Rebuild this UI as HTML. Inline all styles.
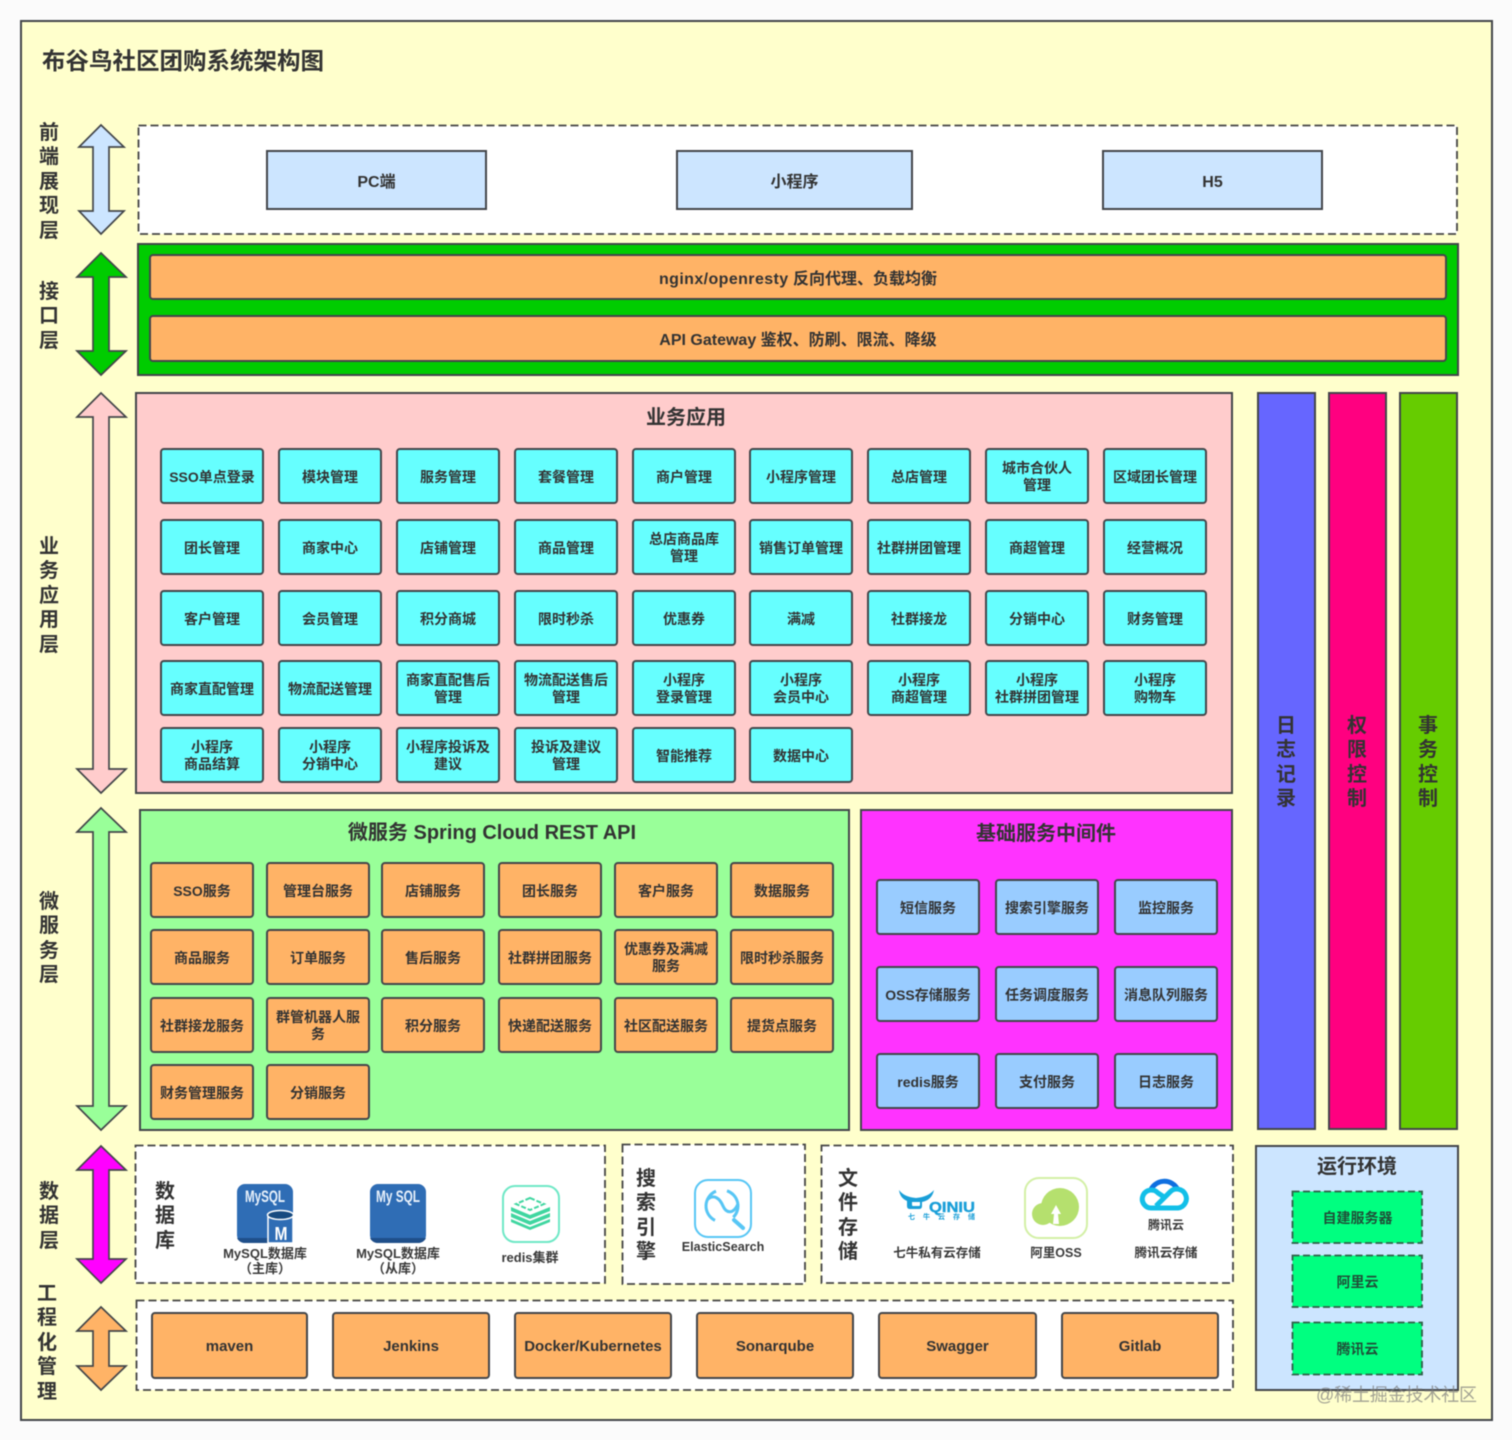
<!DOCTYPE html>
<html lang="zh"><head><meta charset="utf-8"><title>布谷鸟社区团购系统架构图</title>
<style>
*{box-sizing:border-box}
html,body{margin:0;padding:0;background:#fbfbfb}
body{width:1512px;height:1440px;position:relative;overflow:hidden;font-family:"Liberation Sans","Noto Sans CJK SC",sans-serif;font-weight:700;color:#333;font-size:14px}
div{position:absolute}
#w{left:0;top:0;width:1512px;height:1440px;filter:blur(.45px)}
.f{display:flex;align-items:center;justify-content:center;text-align:center;line-height:17px;padding-top:2px}
.s{border:2px solid #43464a}
.v{font-size:20px;line-height:24.4px;text-align:center;width:30px;color:#333}
.c{width:104px;height:56px;border:2px solid #43464a;border-radius:4px}
.cy{background:#66ffff}.or{background:#ffb366}.bl{background:#99ccff}
.a1{left:160px}.a2{left:278px}.a3{left:396px}.a4{left:514px}.a5{left:632px}.a6{left:749px}.a7{left:867px}.a8{left:985px}.a9{left:1103px}
.t1{top:448px}.t2{top:519px}.t3{top:590px}.t4{top:660px}.t5{top:727px}
.b1{left:150px}.b2{left:266px}.b3{left:381px}.b4{left:498px}.b5{left:614px}.b6{left:730px}
.u1{top:862px}.u2{top:929px}.u3{top:997px}.u4{top:1064px}
.m1{left:876px}.m2{left:995px}.m3{left:1114px}
.w1{top:879px}.w2{top:966px}.w3{top:1053px}
.e{top:1312px;height:67px;border:2px solid #43464a;border-radius:4px;background:#ffb366;font-size:15px}
.g{left:1292px;width:131px;height:53px;color:#1f4f38}
.l{text-align:center;line-height:15px;font-size:13px;transform:translateX(-50%);white-space:nowrap;color:#3a3a3a}
.ttl{font-size:20px;transform:translateX(-50%);white-space:nowrap;line-height:26px}
.big{font-size:16px;padding-top:4px}
</style></head><body>
<div id="w">

<div class="s" style="left:20px;top:20px;width:1473px;height:1401px;background:#ffffcc"></div>
<div class="s" style="left:1255px;top:1145px;width:204px;height:246px;background:#cce5ff"></div>

<svg style="position:absolute;left:0;top:0" width="1512" height="1440" viewBox="0 0 1512 1440">
<g fill="#fff" stroke="#444" stroke-width="1.800" stroke-dasharray="8 4">
<rect x="138.500" y="125.500" width="1318.500" height="108.500"/>
<rect x="135.500" y="1145.500" width="469.500" height="137.500"/>
<rect x="622.500" y="1144.500" width="182.500" height="139.500"/>
<rect x="821.500" y="1145.500" width="411.500" height="137.500"/>
<rect x="136.500" y="1300.500" width="1096.500" height="89.500"/>
</g>
<g fill="#00ff80" stroke="#2f5f48" stroke-width="1.800" stroke-dasharray="7 3.500">
<rect x="1292.500" y="1191.500" width="129.500" height="51.500"/>
<rect x="1292.500" y="1255.500" width="129.500" height="51.500"/>
<rect x="1292.500" y="1322.500" width="129.500" height="52"/>
</g>
</svg>

<div style="left:42px;top:44px;font-size:23.500px;line-height:34px;white-space:nowrap">布谷鸟社区团购系统架构图</div>

<div class="v" style="left:34px;top:121px">前<br>端<br>展<br>现<br>层</div>
<div class="v" style="left:34px;top:280px">接<br>口<br>层</div>
<div class="v" style="left:34px;top:535px">业<br>务<br>应<br>用<br>层</div>
<div class="v" style="left:34px;top:890px">微<br>服<br>务<br>层</div>
<div class="v" style="left:34px;top:1180px">数<br>据<br>层</div>
<div class="v" style="left:32px;top:1282px">工<br>程<br>化<br>管<br>理</div>

<!-- 前端 -->
<div class="s f big" style="left:266px;top:150px;width:221px;height:60px;background:#cce5ff">PC端</div>
<div class="s f big" style="left:676px;top:150px;width:237px;height:60px;background:#cce5ff">小程序</div>
<div class="s f big" style="left:1102px;top:150px;width:221px;height:60px;background:#cce5ff">H5</div>

<!-- 接口 -->
<div class="s" style="left:137px;top:243px;width:1322px;height:133px;background:#00cc00"></div>
<div class="f big" style="left:149px;top:254px;width:1298px;height:46px;background:#ffb366;border:2px solid #43464a;border-radius:4px"><span style="letter-spacing:.4px">nginx/openresty</span>&nbsp;反向代理、负载均衡</div>
<div class="f big" style="left:149px;top:315px;width:1298px;height:47px;background:#ffb366;border:2px solid #43464a;border-radius:4px">API Gateway 鉴权、防刷、限流、降级</div>

<!-- 业务应用 -->
<div class="s" style="left:135px;top:392px;width:1098px;height:402px;background:#ffcccc"></div>
<div class="ttl" style="left:686px;top:405px">业务应用</div>

<div class="c cy f a1 t1">SSO单点登录</div><div class="c cy f a2 t1">模块管理</div><div class="c cy f a3 t1">服务管理</div><div class="c cy f a4 t1">套餐管理</div><div class="c cy f a5 t1">商户管理</div><div class="c cy f a6 t1">小程序管理</div><div class="c cy f a7 t1">总店管理</div><div class="c cy f a8 t1">城市合伙人<br>管理</div><div class="c cy f a9 t1">区域团长管理</div>
<div class="c cy f a1 t2">团长管理</div><div class="c cy f a2 t2">商家中心</div><div class="c cy f a3 t2">店铺管理</div><div class="c cy f a4 t2">商品管理</div><div class="c cy f a5 t2">总店商品库<br>管理</div><div class="c cy f a6 t2">销售订单管理</div><div class="c cy f a7 t2">社群拼团管理</div><div class="c cy f a8 t2">商超管理</div><div class="c cy f a9 t2">经营概况</div>
<div class="c cy f a1 t3">客户管理</div><div class="c cy f a2 t3">会员管理</div><div class="c cy f a3 t3">积分商城</div><div class="c cy f a4 t3">限时秒杀</div><div class="c cy f a5 t3">优惠券</div><div class="c cy f a6 t3">满减</div><div class="c cy f a7 t3">社群接龙</div><div class="c cy f a8 t3">分销中心</div><div class="c cy f a9 t3">财务管理</div>
<div class="c cy f a1 t4">商家直配管理</div><div class="c cy f a2 t4">物流配送管理</div><div class="c cy f a3 t4">商家直配售后<br>管理</div><div class="c cy f a4 t4">物流配送售后<br>管理</div><div class="c cy f a5 t4">小程序<br>登录管理</div><div class="c cy f a6 t4">小程序<br>会员中心</div><div class="c cy f a7 t4">小程序<br>商超管理</div><div class="c cy f a8 t4">小程序<br>社群拼团管理</div><div class="c cy f a9 t4">小程序<br>购物车</div>
<div class="c cy f a1 t5">小程序<br>商品结算</div><div class="c cy f a2 t5">小程序<br>分销中心</div><div class="c cy f a3 t5">小程序投诉及<br>建议</div><div class="c cy f a4 t5">投诉及建议<br>管理</div><div class="c cy f a5 t5">智能推荐</div><div class="c cy f a6 t5">数据中心</div>

<!-- 微服务 -->
<div class="s" style="left:139px;top:809px;width:711px;height:322px;background:#99ff99"></div>
<div class="ttl" style="left:492px;top:820px">微服务 Spring Cloud REST API</div>
<div class="c or f b1 u1">SSO服务</div><div class="c or f b2 u1">管理台服务</div><div class="c or f b3 u1">店铺服务</div><div class="c or f b4 u1">团长服务</div><div class="c or f b5 u1">客户服务</div><div class="c or f b6 u1">数据服务</div>
<div class="c or f b1 u2">商品服务</div><div class="c or f b2 u2">订单服务</div><div class="c or f b3 u2">售后服务</div><div class="c or f b4 u2">社群拼团服务</div><div class="c or f b5 u2">优惠券及满减<br>服务</div><div class="c or f b6 u2">限时秒杀服务</div>
<div class="c or f b1 u3">社群接龙服务</div><div class="c or f b2 u3">群管机器人服<br>务</div><div class="c or f b3 u3">积分服务</div><div class="c or f b4 u3">快递配送服务</div><div class="c or f b5 u3">社区配送服务</div><div class="c or f b6 u3">提货点服务</div>
<div class="c or f b1 u4">财务管理服务</div><div class="c or f b2 u4">分销服务</div>

<!-- 中间件 -->
<div class="s" style="left:860px;top:809px;width:373px;height:322px;background:#ff33ff"></div>
<div class="ttl" style="left:1046px;top:821px">基础服务中间件</div>
<div class="c bl f m1 w1">短信服务</div><div class="c bl f m2 w1">搜索引擎服务</div><div class="c bl f m3 w1">监控服务</div>
<div class="c bl f m1 w2">OSS存储服务</div><div class="c bl f m2 w2">任务调度服务</div><div class="c bl f m3 w2">消息队列服务</div>
<div class="c bl f m1 w3">redis服务</div><div class="c bl f m2 w3">支付服务</div><div class="c bl f m3 w3">日志服务</div>

<!-- 竖列 -->
<div class="s" style="left:1257px;top:392px;width:59px;height:738px;background:#6666ff"></div>
<div class="s" style="left:1328px;top:392px;width:59px;height:738px;background:#ff0080"></div>
<div class="s" style="left:1399px;top:392px;width:59px;height:738px;background:#66cc00"></div>
<div class="v" style="left:1271px;top:714px">日<br>志<br>记<br>录</div>
<div class="v" style="left:1342px;top:714px">权<br>限<br>控<br>制</div>
<div class="v" style="left:1413px;top:714px">事<br>务<br>控<br>制</div>

<!-- 存储 -->
<div class="v" style="left:150px;top:1180px">数<br>据<br>库</div>
<div class="v" style="left:631px;top:1167px">搜<br>索<br>引<br>擎</div>
<div class="v" style="left:833px;top:1167px">文<br>件<br>存<br>储</div>
<div class="l" style="left:265px;top:1246px">MySQL数据库<br>（主库）</div>
<div class="l" style="left:398px;top:1246px">MySQL数据库<br>（从库）</div>
<div class="l" style="left:530px;top:1250px">redis集群</div>
<div class="l" style="left:723px;top:1240px;font-size:12.600px">ElasticSearch</div>
<div class="l" style="left:937px;top:1246px;font-size:12.500px">七牛私有云存储</div>
<div class="l" style="left:1056px;top:1246px;font-size:12.500px">阿里OSS</div>
<div class="l" style="left:1166px;top:1246px;font-size:12.600px">腾讯云存储</div>
<div class="l" style="left:1166px;top:1218px;font-size:12px">腾讯云</div>

<!-- 工程化 -->
<div class="e f" style="left:151px;width:157px">maven</div>
<div class="e f" style="left:332px;width:158px">Jenkins</div>
<div class="e f" style="left:514px;width:158px">Docker/Kubernetes</div>
<div class="e f" style="left:696px;width:158px">Sonarqube</div>
<div class="e f" style="left:878px;width:159px">Swagger</div>
<div class="e f" style="left:1061px;width:158px">Gitlab</div>

<!-- 运行环境 -->
<div class="ttl" style="left:1357px;top:1154px">运行环境</div>
<div class="g f" style="top:1191px">自建服务器</div>
<div class="g f" style="top:1255px">阿里云</div>
<div class="g f" style="top:1322px">腾讯云</div>

<svg style="position:absolute;left:0;top:0" width="1512" height="1440" viewBox="0 0 1512 1440" font-family="Liberation Sans, Noto Sans CJK SC, sans-serif">
<g stroke="#43464a" stroke-width="1.700" stroke-linejoin="miter">
<path fill="#cce5ff" d="M101 125L124 147H109V211H124L101 234L79 211H93V147H79Z"/>
<path fill="#00cc00" d="M101 253L126 277H109V351H126L101 375L77 351H93V277H77Z"/>
<path fill="#ffcccc" d="M101 393L126 417H109V769H126L101 793L77 769H93V417H77Z"/>
<path fill="#99ff99" d="M101 808L126 832H109V1106H126L101 1130L77 1106H93V832H77Z"/>
<path fill="#ff00ff" d="M101 1146L126 1170H109V1259H126L101 1283L77 1259H93V1170H77Z"/>
<path fill="#ffb366" d="M101 1307L126 1331H109V1366H126L101 1390L77 1366H93V1331H77Z"/>
</g>

<!-- MySQL 主库 -->
<rect x="237" y="1184" width="56" height="59" rx="8" fill="#2f6db5"/>
<path d="M237 1238a8 8 0 0 0 8 5h40a8 8 0 0 0 8-5z" fill="#1f4f8a"/>
<text x="265" y="1202" text-anchor="middle" fill="#e8f1fb" font-size="17" font-weight="700" textLength="40" lengthAdjust="spacingAndGlyphs">MySQL</text>
<rect x="268" y="1214" width="25" height="29" fill="#2f6db5" stroke="#fff" stroke-width="1.500"/>
<ellipse cx="280.500" cy="1215" rx="13" ry="4.500" fill="#174a80" stroke="#fff" stroke-width="1.500"/>
<text x="281" y="1240" text-anchor="middle" fill="#fff" font-size="18" font-weight="700" textLength="13" lengthAdjust="spacingAndGlyphs">M</text>
<!-- MySQL 从库 -->
<rect x="370" y="1184" width="56" height="59" rx="8" fill="#2f6db5"/>
<path d="M370 1238a8 8 0 0 0 8 5h40a8 8 0 0 0 8-5z" fill="#1f4f8a"/>
<text x="398" y="1202" text-anchor="middle" fill="#e8f1fb" font-size="17" font-weight="700" textLength="44" lengthAdjust="spacingAndGlyphs">My SQL</text>
<!-- redis -->
<rect x="503" y="1186" width="56" height="56" rx="12" fill="#fff" stroke="#6fe8c6" stroke-width="2"/>
<path d="M530 1198l14 6-14 6-14-6z" fill="none" stroke="#3fd6a0" stroke-width="2" stroke-dasharray="5 2"/>
<path d="M511 1207l19 8 20-8v4l-20 8-19-8z" fill="#3fd6a0"/>
<path d="M511 1213l19 8 20-8v4l-20 8-19-8z" fill="#3fd6a0"/>
<path d="M511 1219l19 8 20-8v3l-20 8-19-8z" fill="#3fd6a0"/>
<!-- elastic -->
<rect x="695" y="1180" width="56" height="57" rx="13" fill="#fff" stroke="#57c6f5" stroke-width="2"/>
<g fill="none" stroke="#57c6f5" stroke-width="3">
<path d="M716 1191.200A16 16 0 0 0 715 1220.400"/>
<path d="M727 1190.800A16 16 0 0 1 733.300 1217.300"/>
<path d="M707 1200C714 1193 720 1199 723 1206S733 1215 738 1204"/>
<path d="M734 1220l9 8" stroke-width="4" stroke-linecap="round"/>
</g>
<!-- qiniu -->
<path d="M899 1190q5 7 17 8q12-1 18-8q-2 10-12 12v4q0 3-3 3h-9q-3 0-3-3v-5q-7-3-8-11zM912 1202v3q0 1 1 1h6q1 0 1-1v-3z" fill="#1a9fd8"/>
<text x="929" y="1212" fill="#1a9fd8" font-size="15" font-weight="700" stroke="#1a9fd8" stroke-width=".4" textLength="46" lengthAdjust="spacingAndGlyphs">QINIU</text>
<text x="908" y="1219" fill="#1a9fd8" font-size="7" textLength="67">七 牛 云 存 储</text>
<!-- OSS -->
<rect x="1025" y="1178" width="62" height="60" rx="14" fill="#fff" stroke="#d3f0a6" stroke-width="2"/>
<circle cx="1060" cy="1207" r="19" fill="#b5e06e"/>
<circle cx="1043" cy="1214" r="11" fill="#b5e06e"/>
<path d="M1056 1205l-5 9h3l-1 10h6l-1-10h3z" fill="#fff"/>
<!-- tencent -->
<path d="M1150 1192a15 15 0 0 1 28-2" fill="none" stroke="#0f6fe0" stroke-width="5"/>
<path d="M1164 1197l-6-4a9 9 0 1 0-6 15h26a9.500 9.500 0 1 0-8-16l-14 14" fill="none" stroke="#12bfe8" stroke-width="5"/>

<text x="1316" y="1401" fill="#7a7a7a" fill-opacity=".7" font-size="18" font-weight="400" textLength="161">@稀土掘金技术社区</text>
</svg>
</div>
</body></html>
